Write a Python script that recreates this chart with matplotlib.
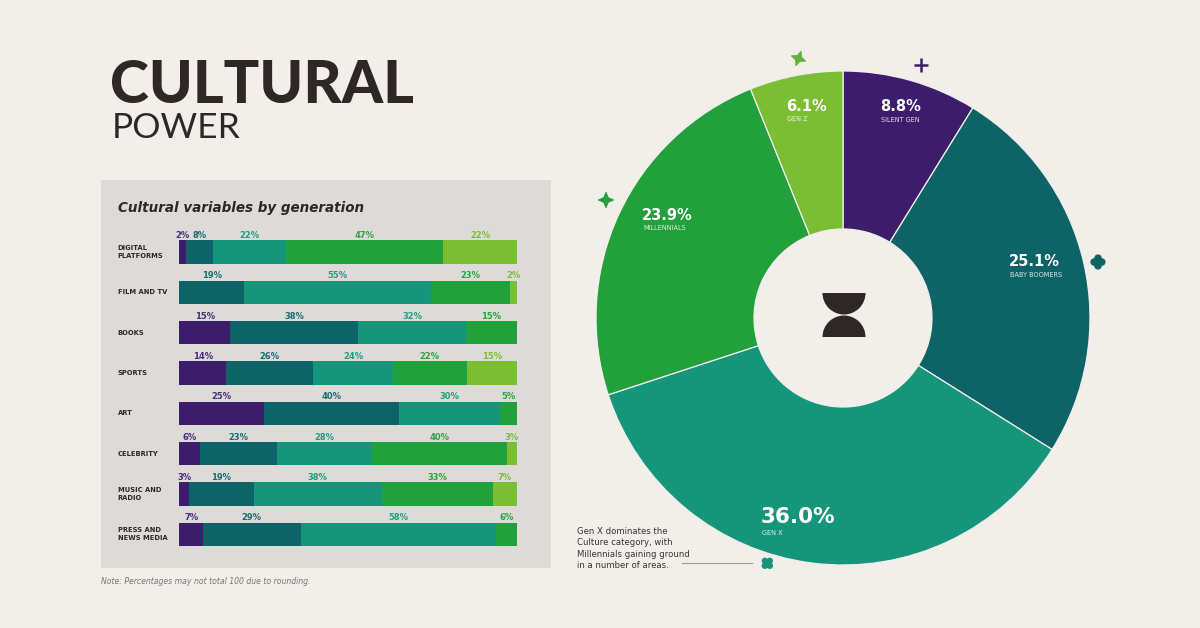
import numpy as np
import matplotlib
matplotlib.use('Agg')
import matplotlib.pyplot as plt
from matplotlib.patches import Rectangle, Circle, Wedge, Polygon

# data
categories = ['DIGITAL\nPLATFORMS', 'FILM AND TV', 'BOOKS', 'SPORTS', 'ART',
              'CELEBRITY', 'MUSIC AND\nRADIO', 'PRESS AND\nNEWS MEDIA']
silent_gen = [2, 0, 15, 14, 25, 6, 3, 7]
baby_boomers = [8, 19, 38, 26, 40, 23, 19, 29]
gen_x = [22, 55, 32, 24, 30, 28, 38, 58]
millennials = [47, 23, 15, 22, 5, 40, 33, 6]
gen_z = [22, 2, 0, 15, 0, 3, 7, 0]

donut_names = ['SILENT GEN', 'BABY BOOMERS', 'GEN X', 'MILLENNIALS', 'GEN Z']
donut_share = [8.8, 25.1, 36.0, 23.9, 6.1]

colors = ['#3e1c6c', '#0e6367', '#15967b', '#21a03b', '#7bbd33']
text_colors = ['#4a2a7c', '#1a6c70', '#1f9c80', '#2aa33f', '#7dbe37']

BG = '#f2efeb'
PANEL = '#dddbd7'
DARK = '#2e2627'

fig = plt.figure(figsize=(12, 6.28), dpi=100, facecolor=BG)

# back layer in pixel coords
back = fig.add_axes([0, 0, 1, 1], zorder=0)
back.set_xlim(0, 1200)
back.set_ylim(628, 0)
back.axis('off')
back.add_patch(Rectangle((101, 180), 450, 388, facecolor=PANEL, edgecolor='none'))

back.text(110, 103, 'CULTURAL', family='Lato', weight=900, fontsize=42.5,
          color=DARK, va='baseline', ha='left')
back.text(112, 137.5, 'POWER', family='Lato', weight='normal', fontsize=25.5,
          color=DARK, va='baseline', ha='left')
back.text(118, 212, 'Cultural variables by generation', fontsize=9.75,
          weight='bold', style='italic', color=DARK, va='baseline')
back.text(101, 581, 'Note: Percentages may not total 100 due to rounding.',
          fontsize=5.6, style='italic', color='#7a7474', va='center')

# stacked bars
ax = fig.add_axes([179.3 / 1200, 1 - 554.35 / 628, 337.4 / 1200, 322.5 / 628], zorder=1)
ax.patch.set_alpha(0)
series = np.array([silent_gen, baby_boomers, gen_x, millennials, gen_z], dtype=float)
totals = series.sum(axis=0)
norm = series / totals * 100
y = np.arange(len(categories))
bar_h = 0.58
left = np.zeros(len(categories))
for k in range(len(series)):
    ax.barh(y, norm[k], left=left, height=bar_h, color=colors[k], edgecolor='none')
    for i in range(len(categories)):
        v = series[k][i]
        if v > 0:
            ax.annotate(f'{int(v)}%', (left[i] + norm[k][i] / 2, y[i] - bar_h / 2),
                        xytext=(0, 1.6), textcoords='offset points',
                        ha='center', va='baseline', fontsize=6, weight='bold',
                        color=text_colors[k])
    left += norm[k]
ax.set_xlim(0, 100)
ax.set_ylim(len(categories) - 0.5, -0.5)
ax.axis('off')
for i, c in enumerate(categories):
    ax.text(-0.1826, y[i], c, transform=ax.get_yaxis_transform(), ha='left',
            va='center', fontsize=4.9, weight='bold', color=DARK, linespacing=1.3)

# donut
R_PX = 247
pax = fig.add_axes([(843 - 250) / 1200, 1 - (318 + 250) / 628, 500 / 1200, 500 / 628], zorder=1)
pax.pie(donut_share, colors=colors, startangle=90, counterclock=False, radius=1,
        wedgeprops=dict(width=(247 - 89) / 247, edgecolor=BG, linewidth=0.9))
lim = 250 / R_PX
pax.set_xlim(-lim, lim)
pax.set_ylim(-lim, lim)
pax.set_aspect('equal')
pax.axis('off')

# front layer: labels and decorations
front = fig.add_axes([0, 0, 1, 1], zorder=5)
front.patch.set_alpha(0)
front.set_xlim(0, 1200)
front.set_ylim(628, 0)
front.axis('off')

# label anchors (left x, pct y, name y) for each slice
label_pos = [(880, 106.7, 119.5), (1009, 261.7, 275), (761, 517, 532.7),
             (642, 215.3, 228.3), (786, 106.7, 119.3)]
for (lx, py, ny), name, share in zip(label_pos, donut_names, donut_share):
    big = name == 'GEN X'
    front.text(lx, py, f'{share:.1f}%', ha='left', va='center', color='white',
               fontsize=15.5 if big else 10.5, weight='bold')
    front.text(lx + 1, ny, name, ha='left', va='center', color='white', alpha=0.85,
               fontsize=4.7)

# center logo
front.add_patch(Wedge((844, 293), 21.5, 0, 180, facecolor=DARK, edgecolor='none'))
front.add_patch(Wedge((844, 337), 21.5, 180, 360, facecolor=DARK, edgecolor='none'))

# annotation
note = 'Gen X dominates the\nCulture category, with\nMillennials gaining ground\nin a number of areas.'
front.text(577, 548.5, note, ha='left', va='center', fontsize=6.1, color='#3a3335',
           linespacing=1.3)
front.plot([682, 752], [562.7, 562.7], color='#a09a9a', lw=0.8)


def star4(cx, cy, r, rot, color):
    pts = []
    for j in range(8):
        a = np.deg2rad(rot + j * 45)
        rr = r if j % 2 == 0 else r * 0.42
        pts.append((cx + rr * np.cos(a), cy + rr * np.sin(a)))
    front.add_patch(Polygon(pts, closed=True, facecolor=color, edgecolor=color,
                            lw=0.8, joinstyle='round'))


def clover(cx, cy, off, rad, rot, color):
    for j in range(4):
        a = np.deg2rad(rot + j * 90)
        front.add_patch(Circle((cx + off * np.cos(a), cy + off * np.sin(a)), rad,
                               facecolor=color, edgecolor='none'))
    front.add_patch(Circle((cx, cy), off, facecolor=color, edgecolor='none'))


star4(798.5, 58.5, 7.5, 20, '#5fb43a')
star4(606, 200, 7.5, 0, '#21a03b')
front.plot([914, 928], [65, 65], color='#3e1c6c', lw=1.8, solid_capstyle='butt')
front.plot([921, 921], [58, 72], color='#3e1c6c', lw=1.8, solid_capstyle='butt')
clover(1098, 262, 3.8, 3.8, 0, '#0e6367')
clover(767.3, 563.3, 3.5, 3.2, 45, '#15967b')

fig.savefig('out.png', dpi=100, facecolor=BG)
